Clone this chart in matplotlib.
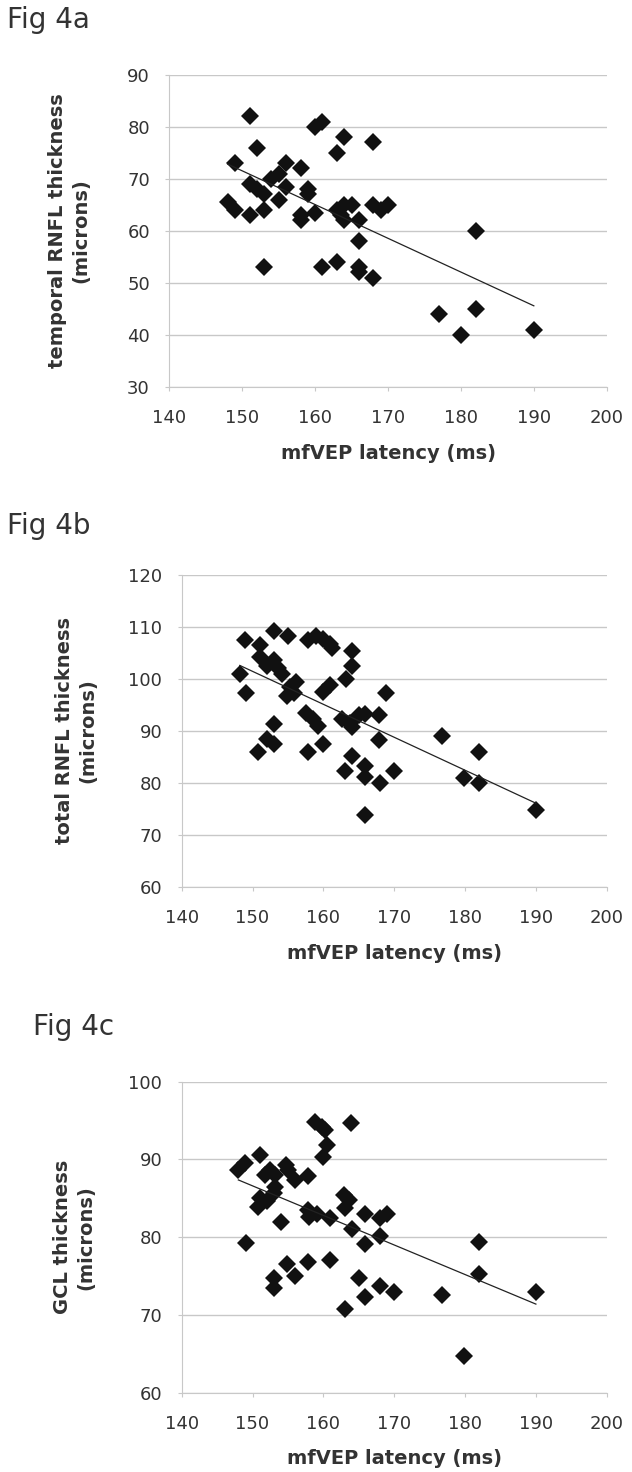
import matplotlib.pyplot as plt
import numpy as np

# mfVEP latency (ms) vs thickness (microns)
lat_a = [151, 161, 160, 164, 168, 152, 163, 149, 156, 158, 155, 154, 151, 152, 153,
         156, 159, 159, 155, 148, 149, 151, 153, 158, 158, 160, 163, 163.6, 164, 165,
         164, 166, 168, 169, 170, 166, 182, 153, 161, 163, 166, 166, 168, 177, 182,
         180, 190]
temporal = [82, 81, 80, 78, 77, 76, 75, 73, 73, 72, 71, 70, 69, 68, 67,
            68.4, 68, 67, 66, 65.5, 64, 63, 64, 63, 62, 63.5, 64, 63, 65, 65,
            62, 62, 65, 64, 65, 58, 60, 53, 53, 54, 53, 52, 51, 44, 45,
            40, 41]

lat_b = [153, 155, 149, 151, 151, 153, 152, 153.6, 154.1, 157.9, 159, 160, 161, 161.2,
         164, 164, 163.2, 148.2, 149.1, 156.2, 155.3, 154.8, 155.8, 161, 160, 168.8,
         157.6, 159.3, 158.6, 162.6, 163.8, 164, 165, 165.9, 167.9, 153, 152, 153,
         150.8, 157.9, 160, 167.9, 176.8, 182, 164, 163, 165.9, 165.9, 168, 170,
         179.9, 182, 165.9, 190]
total = [109.3, 108.2, 107.4, 106.5, 104.3, 103.7, 102.4, 102, 101, 107.4, 108.2, 107.6,
         106.7, 106, 105.3, 102.4, 100, 101, 97.2, 99.4, 98.4, 96.8, 97.2, 98.8, 97.5,
         97.2, 93.5, 91, 92.3, 92.2, 91.5, 90.7, 93, 93.3, 93, 91.3, 88.4, 87.4, 85.9,
         85.9, 87.4, 88.2, 89, 85.9, 85.1, 82.2, 83.2, 81.1, 80, 82.2, 80.9, 80, 73.9,
         74.8]

lat_c = [158.8, 159.8, 160.2, 163.9, 160.5, 160, 151, 149, 148, 152.5, 153.2, 151.8,
         154.7, 155, 156, 157.9, 153.2, 153, 151, 150.8, 152, 154, 157.9, 159.1, 158,
         161, 162.9, 163.6, 163.1, 165.9, 168, 169, 164, 168, 165.9, 149.1, 182, 154.8,
         157.9, 161, 156, 153, 153, 182, 165, 168, 170, 165.9, 163, 176.8, 190, 179.9]
gcl = [94.8, 94.2, 93.8, 94.7, 91.8, 90.3, 90.6, 89.5, 88.6, 88.6, 88, 88, 89.3, 88.6,
       87.3, 87.9, 86.5, 85.7, 85, 83.9, 84.6, 81.9, 83.5, 83, 82.6, 82.5, 85.4, 84.8,
       83.7, 83, 82.4, 83, 81, 80.1, 79.1, 79.3, 79.4, 76.6, 76.8, 77.1, 75, 74.8, 73.4,
       75.3, 74.7, 73.7, 73, 72.3, 70.8, 72.6, 73, 64.7]

panels = [
    ("Fig 4a", lat_a, temporal, "temporal RNFL thickness\n(microns)", (30, 90),
     [0.268, 0.7373, 0.692, 0.2118], (0.011, 0.996), -0.181),
    ("Fig 4b", lat_b, total, "total RNFL thickness\n(microns)", (60, 120),
     [0.2875, 0.3976, 0.6725, 0.2118], (0.011, 0.652), -0.199),
    ("Fig 4c", lat_c, gcl, "GCL thickness\n(microns)", (60, 100),
     [0.2875, 0.054, 0.6725, 0.2111], (0.052, 0.312), -0.202),
]

fig = plt.figure(figsize=(6.32, 14.72), dpi=100)
grey = "#c8c8c8"
txt = "#333333"

for title, x, y, ylab, ylim, rect, tpos, ylx in panels:
    ax = fig.add_axes(rect)
    x = np.array(x)
    y = np.array(y)
    ax.plot(x, y, "D", color="#111111", ms=9, mew=0)
    # linear trend line over the data range
    k, b = np.polyfit(x, y, 1)
    xs = np.array([x.min(), x.max()])
    ax.plot(xs, k * xs + b, color="#222222", lw=0.9)
    ax.set_xlim(140, 200)
    ax.set_ylim(*ylim)
    ax.set_xticks(range(140, 201, 10))
    ax.set_yticks(range(ylim[0], ylim[1] + 1, 10))
    ax.grid(axis="y", color=grey, lw=1)
    ax.set_axisbelow(True)
    for s in ["top", "right"]:
        ax.spines[s].set_visible(False)
    for s in ["left", "bottom"]:
        ax.spines[s].set_color(grey)
    ax.tick_params(colors=grey, labelcolor=txt, labelsize=13, length=3, direction="out")
    ax.tick_params(axis="x", pad=13)
    ax.tick_params(axis="y", pad=11)
    ax.set_xlabel("mfVEP latency (ms)", fontsize=14, fontweight="bold", color=txt, labelpad=12)
    ax.set_ylabel(ylab, fontsize=14, fontweight="bold", color=txt, linespacing=1.3)
    ax.yaxis.set_label_coords(ylx, 0.5)
    fig.text(tpos[0], tpos[1], title, fontsize=20, color=txt, va="top", ha="left")

plt.savefig("out.png", dpi=100)
